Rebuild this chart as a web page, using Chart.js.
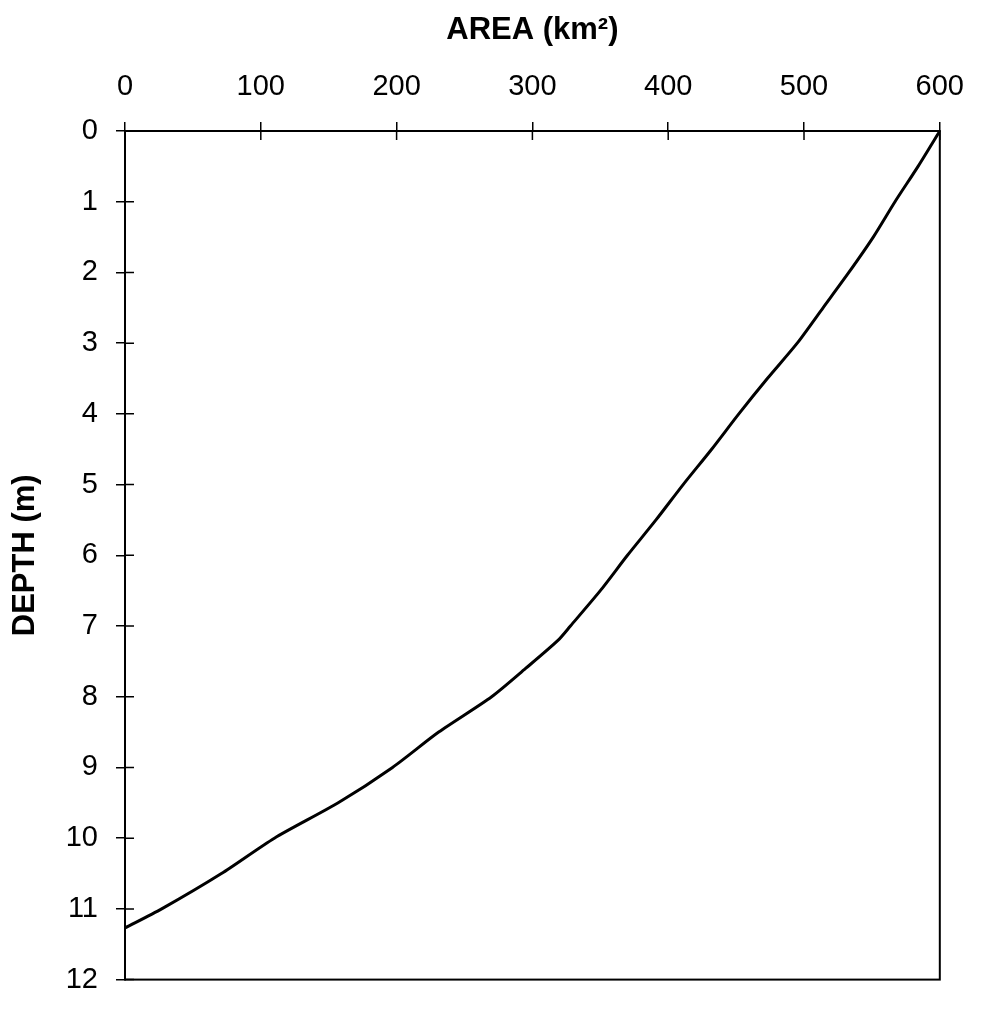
<!DOCTYPE html>
<html>
<head>
<meta charset="utf-8">
<script src="https://cdn.jsdelivr.net/npm/chart.js@4/dist/chart.umd.min.js"></script>
<style>
  html, body { margin: 0; padding: 0; background: #fff; }
  #wrap { width: 982px; height: 1015px; position: relative; }
</style>
</head>
<body>
<div id="wrap"><canvas id="hypsoChart"></canvas></div>
<script>
"use strict";

// depth (m) and area (km2)
const depthValues = [0, 0.5, 1, 1.5, 2, 2.5, 3, 3.5, 4, 4.5, 5, 5.5, 6, 6.5, 7, 7.2, 7.6, 8, 8.5, 9, 9.5, 10, 10.5, 11, 11.27];
const areaValues = [600, 584, 567, 551, 533, 514, 495, 473, 452, 432, 411, 391, 370, 350, 328, 319, 295, 270, 231, 197, 157, 110, 71, 27, 0];

const areaTicks = [0, 100, 200, 300, 400, 500, 600];
const depthTicks = [0, 1, 2, 3, 4, 5, 6, 7, 8, 9, 10, 11, 12];

const points = depthValues.map((d, i) => ({ x: areaValues[i], y: d }));

// box around plot + the half of each tick that sits inside the plot
const frameAndTicks = {
  id: "frameAndTicks",
  afterDraw(chart) {
    const { ctx, chartArea } = chart;
    const xScale = chart.scales.x;
    const yScale = chart.scales.y;
    ctx.save();
    ctx.strokeStyle = "#000";
    ctx.lineWidth = 2;
    ctx.strokeRect(chartArea.left, chartArea.top, chartArea.right - chartArea.left, chartArea.bottom - chartArea.top);
    ctx.lineWidth = 1.5;
    ctx.beginPath();
    xScale.ticks.forEach((t) => {
      const px = xScale.getPixelForValue(t.value);
      ctx.moveTo(px, chartArea.top);
      ctx.lineTo(px, chartArea.top + 9);
    });
    yScale.ticks.forEach((t) => {
      const py = yScale.getPixelForValue(t.value);
      ctx.moveTo(chartArea.left, py);
      ctx.lineTo(chartArea.left + 9, py);
    });
    ctx.stroke();
    ctx.restore();
  },
};

const canvas = document.getElementById("hypsoChart");
new Chart(canvas, {
  type: "scatter",
  data: {
    datasets: [
      {
        data: points,
        showLine: true,
        borderColor: "#000",
        borderWidth: 3,
        pointRadius: 0,
        tension: 0.25,
        fill: false,
      },
    ],
  },
  options: {
    responsive: true,
    maintainAspectRatio: false,
    animation: false,
    layout: {
      padding: { left: 0, top: 0, right: 34, bottom: 19 },
    },
    plugins: {
      legend: { display: false },
      tooltip: { enabled: false },
    },
    scales: {
      x: {
        type: "linear",
        position: "top",
        min: 0,
        max: 600,
        afterBuildTicks: (scale) => {
          scale.ticks = areaTicks.map((v) => ({ value: v }));
        },
        afterFit: (scale) => {
          scale.height = 131;
        },
        grid: {
          drawOnChartArea: false,
          drawTicks: true,
          tickLength: 9,
          color: "#000",
          lineWidth: 1.5,
        },
        border: { display: true, color: "#000", width: 2 },
        ticks: {
          color: "#000",
          padding: 18,
          maxRotation: 0,
          font: { family: "'Liberation Sans', Arial, sans-serif", size: 29 },
        },
        title: {
          display: true,
          text: "AREA (km²)",
          color: "#000",
          padding: { top: 12, bottom: 0 },
          font: { family: "'Liberation Sans', Arial, sans-serif", size: 31, weight: "bold" },
        },
      },
      y: {
        type: "linear",
        reverse: true,
        min: 0,
        max: 12,
        afterBuildTicks: (scale) => {
          scale.ticks = depthTicks.map((v) => ({ value: v }));
        },
        afterFit: (scale) => {
          scale.width = 125;
        },
        grid: {
          drawOnChartArea: false,
          drawTicks: true,
          tickLength: 9,
          color: "#000",
          lineWidth: 1.5,
        },
        border: { display: true, color: "#000", width: 2 },
        ticks: {
          color: "#000",
          padding: 18,
          font: { family: "'Liberation Sans', Arial, sans-serif", size: 29 },
        },
        title: {
          display: true,
          text: "DEPTH (m)",
          color: "#000",
          padding: { top: 7, bottom: 0 },
          font: { family: "'Liberation Sans', Arial, sans-serif", size: 31, weight: "bold" },
        },
      },
    },
  },
  plugins: [frameAndTicks],
});
</script>
</body>
</html>
